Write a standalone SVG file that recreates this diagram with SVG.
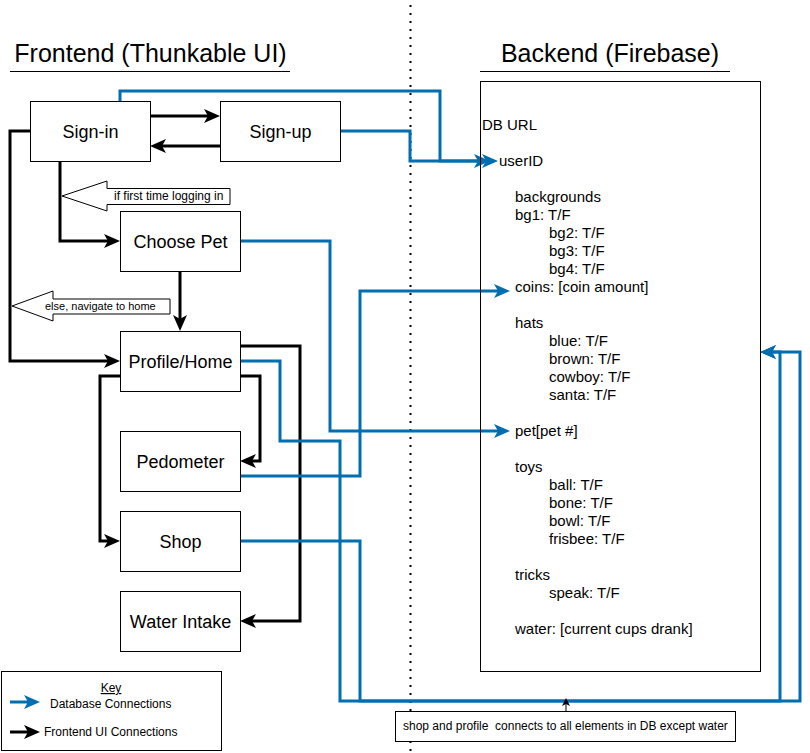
<svg xmlns="http://www.w3.org/2000/svg" width="810" height="753" viewBox="0 0 810 753">
<style>
text{font-family:"Liberation Sans",Arial,Helvetica,sans-serif;fill:#000}
.node rect{fill:#fff;stroke:#000;stroke-width:1}
.node text{font-size:18px;text-anchor:middle}
.title{font-size:25px;text-anchor:middle}
.db{font-size:15px}
.blk{fill:none;stroke:#000;stroke-width:3;marker-end:url(#ab)}
.blu{fill:none;stroke:#006EAF;stroke-width:3;marker-end:url(#au)}
.call{fill:#fff;stroke:#000;stroke-width:1}
.small{font-size:12px}
</style>
<defs>
<marker id="ab" markerUnits="userSpaceOnUse" markerWidth="16" markerHeight="14" refX="4" refY="7" orient="auto" overflow="visible"><path d="M0,0 L16,7 L0,14 L4,7 Z" fill="#000"/></marker>
<marker id="au" markerUnits="userSpaceOnUse" markerWidth="16" markerHeight="14" refX="4" refY="7" orient="auto" overflow="visible"><path d="M0,0 L16,7 L0,14 L4,7 Z" fill="#006EAF"/></marker>
<marker id="as" markerUnits="userSpaceOnUse" markerWidth="8" markerHeight="8" refX="2" refY="4" orient="auto" overflow="visible"><path d="M0,0 L8,4 L0,8 L2,4 Z" fill="#000"/></marker>
</defs>
<rect width="810" height="753" fill="#fff"/>
<line x1="410.5" y1="5" x2="410.5" y2="753" stroke="#000" stroke-width="2" stroke-dasharray="2 6"/>
<g id="titles">
<text class="title" x="150.5" y="62">Frontend (Thunkable UI)</text>
<line x1="10" y1="71.5" x2="290" y2="71.5" stroke="#000" stroke-width="1"/>
<text class="title" x="610" y="62">Backend (Firebase)</text>
<line x1="480" y1="71.5" x2="730" y2="71.5" stroke="#000" stroke-width="1"/>
</g>
<g id="connectors">
<path class="blk" d="M150,116 H208"/>
<path class="blk" d="M220,146 H162"/>
<path class="blk" d="M60,161 V241 H108"/>
<path class="blk" d="M30,131 H10 V361 H108"/>
<path class="blk" d="M180,271 V319"/>
<path class="blk" d="M240,376 H260 V461 H252"/>
<path class="blk" d="M120,376 H100 V541 H108"/>
<path class="blk" d="M240,346 H300 V621 H252"/>
<path class="blu" d="M120,101 V91 H440 V161 H486"/>
<path class="blu" d="M340,131 H410 V161 H478"/>
<path class="blu" d="M240,241 H330 V431 H498"/>
<path class="blu" d="M240,476 H360 V291 H498"/>
<path class="blu" d="M240,361 H280 V441 H340 V701 H800 V352 H772"/>
<path class="blu" d="M240,541 H360 V701 H780 V352 H772"/>
<path d="M566,711 V704" fill="none" stroke="#000" stroke-width="1" marker-end="url(#as)"/>
</g>
<g id="callout-first-time">
<polygon class="call" points="62,196 107,181 107,188.5 230,188.5 230,204.5 107,204.5 107,211"/>
<text class="small" x="114" y="200">if first time logging in</text>
</g>
<g id="callout-else">
<polygon class="call" points="12,306 53,291 53,299 170,299 170,314 53,314 53,321"/>
<text x="45" y="310" font-size="11">else, navigate to home</text>
</g>
<g id="node-signin" class="node"><rect x="30.5" y="101.5" width="120" height="60"/><text x="90.5" y="137.5">Sign-in</text></g>
<g id="node-signup" class="node"><rect x="220.5" y="101.5" width="120" height="60"/><text x="280.5" y="137.5">Sign-up</text></g>
<g id="node-choosepet" class="node"><rect x="120.5" y="211.5" width="120" height="60"/><text x="180.5" y="247.5">Choose Pet</text></g>
<g id="node-profile" class="node"><rect x="120.5" y="331.5" width="120" height="60"/><text x="180.5" y="367.5">Profile/Home</text></g>
<g id="node-pedometer" class="node"><rect x="120.5" y="431.5" width="120" height="60"/><text x="180.5" y="467.5">Pedometer</text></g>
<g id="node-shop" class="node"><rect x="120.5" y="511.5" width="120" height="60"/><text x="180.5" y="547.5">Shop</text></g>
<g id="node-water" class="node"><rect x="120.5" y="591.5" width="120" height="60"/><text x="180.5" y="627.5">Water Intake</text></g>
<g id="node-backend">
<rect x="480.5" y="81.5" width="280" height="590" fill="none" stroke="#000" stroke-width="1"/>
<g class="db">
<text x="482" y="130">DB URL</text>
<text x="499" y="166">userID</text>
<text x="515" y="202">backgrounds</text>
<text x="515" y="220">bg1: T/F</text>
<text x="549" y="238">bg2: T/F</text>
<text x="549" y="256">bg3: T/F</text>
<text x="549" y="274">bg4: T/F</text>
<text x="515" y="292">coins: [coin amount]</text>
<text x="515" y="328">hats</text>
<text x="549" y="346">blue: T/F</text>
<text x="549" y="364">brown: T/F</text>
<text x="549" y="382">cowboy: T/F</text>
<text x="549" y="400">santa: T/F</text>
<text x="515" y="436">pet[pet #]</text>
<text x="515" y="472">toys</text>
<text x="549" y="490">ball: T/F</text>
<text x="549" y="508">bone: T/F</text>
<text x="549" y="526">bowl: T/F</text>
<text x="549" y="544">frisbee: T/F</text>
<text x="515" y="580">tricks</text>
<text x="549" y="598">speak: T/F</text>
<text x="515" y="634">water: [current cups drank]</text>
</g>
</g>
<g id="note">
<rect x="395.5" y="711.5" width="340" height="30" fill="#fff" stroke="#000" stroke-width="1"/>
<text class="small" x="403" y="730" xml:space="preserve" style="white-space:pre">shop and profile  connects to all elements in DB except water</text>
</g>
<g id="key">
<rect x="1.5" y="671.5" width="220" height="79" fill="#fff" stroke="#000" stroke-width="1"/>
<text class="small" x="111" y="692" text-anchor="middle" text-decoration="underline">Key</text>
<path class="blu" d="M10,702 H28"/>
<text class="small" x="50" y="708">Database Connections</text>
<path class="blk" d="M10,732 H28"/>
<text class="small" x="44" y="736">Frontend UI Connections</text>
</g>
</svg>
